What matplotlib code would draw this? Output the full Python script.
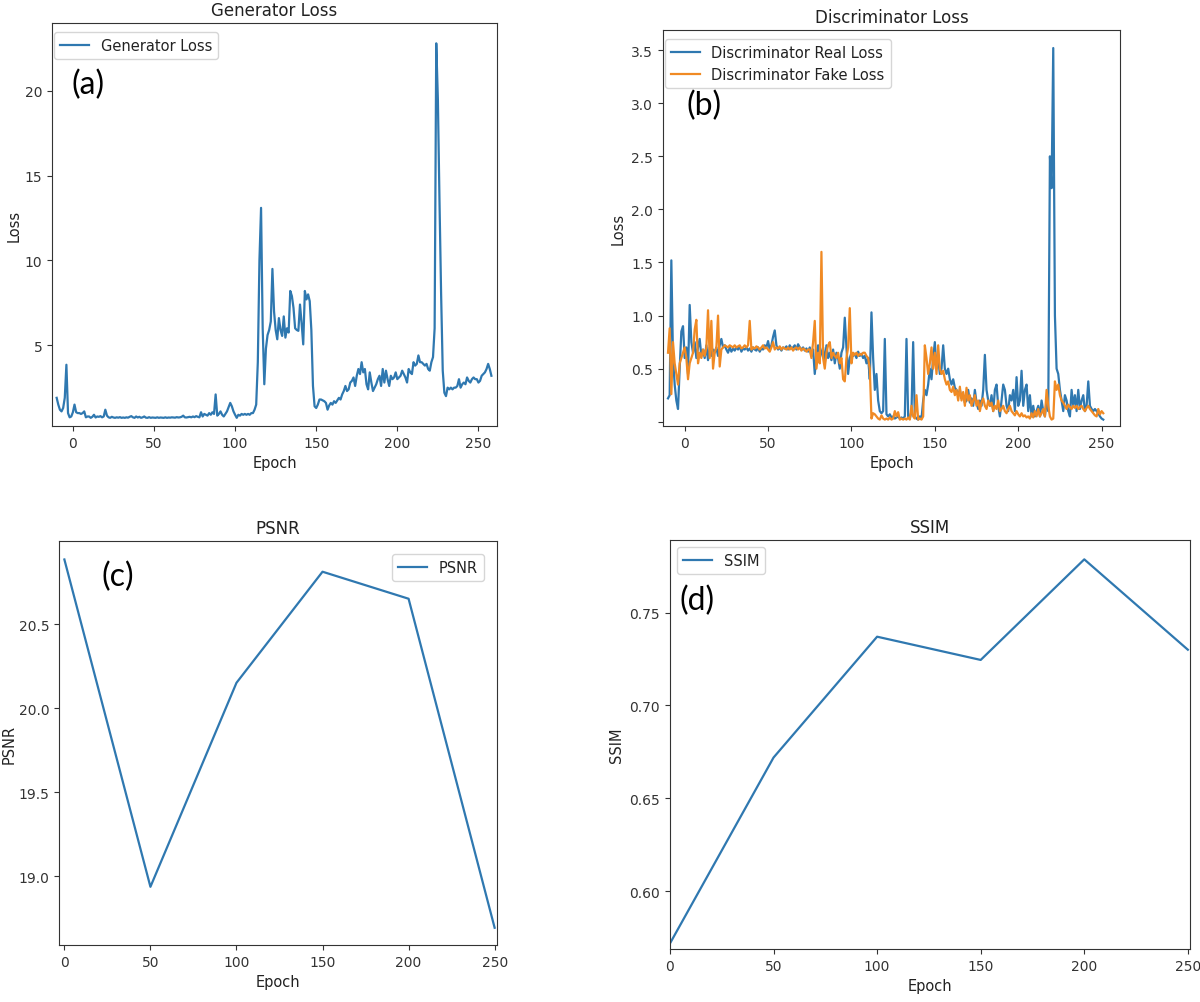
import numpy as np
import matplotlib
matplotlib.use("Agg")
import matplotlib.pyplot as plt

plt.rcParams["font.family"] = ["DejaVu Sans"]
plt.rcParams["axes.edgecolor"] = "#333333"
plt.rcParams["xtick.color"] = "#333333"
plt.rcParams["ytick.color"] = "#333333"
plt.rcParams["text.color"] = "#222222"
plt.rcParams["axes.labelcolor"] = "#222222"

# ---- data ----
gen_epochs = np.arange(-10, 259)
gen_loss = [
    1.9, 1.5, 1.2, 1.1, 1.3, 1.9, 3.85, 1.0, 0.75, 0.8,
    1.05, 1.5, 1.05, 1.0, 1.0, 0.95, 1.0, 1.1, 0.75, 0.8,
    0.8, 0.72, 0.78, 0.9, 0.74, 0.8, 0.78, 0.82, 0.75, 0.8,
    1.2, 0.85, 0.75, 0.72, 0.78, 0.74, 0.72, 0.75, 0.73, 0.76,
    0.72, 0.74, 0.72, 0.75, 0.73, 0.78, 0.82, 0.75, 0.72, 0.8,
    0.74, 0.78, 0.72, 0.75, 0.8, 0.73, 0.72, 0.76, 0.72, 0.74,
    0.73, 0.72, 0.75, 0.72, 0.74, 0.73, 0.72, 0.75, 0.72, 0.74,
    0.73, 0.75, 0.74, 0.73, 0.76, 0.74, 0.75, 0.78, 0.85, 0.75,
    0.74, 0.76, 0.78, 0.75, 0.8, 0.76, 0.82, 0.78, 0.75, 1.05,
    0.8, 0.95, 0.9, 0.85, 1.0, 0.9, 1.05, 0.95, 2.1, 0.85,
    0.95, 1.1, 0.9, 0.8, 0.95, 1.1, 1.35, 1.6, 1.4, 1.1,
    0.9, 0.72, 0.9, 0.85, 0.95, 0.9, 0.95, 0.9, 0.95, 0.9,
    1.0, 1.0, 1.2, 1.5, 4.0, 10.0, 13.1, 6.0, 2.7, 4.8,
    5.6, 5.9, 6.4, 9.5, 7.0, 5.9, 5.35, 6.6, 5.9, 5.55,
    6.7, 5.45, 6.0, 5.75, 8.2, 7.9, 7.2, 6.0, 5.9, 5.85,
    7.4, 6.3, 5.05, 8.2, 7.7, 8.0, 7.6, 5.9, 2.6, 1.4,
    1.3, 1.5, 1.8, 1.8, 1.75, 1.7, 1.6, 1.2, 1.45, 1.6,
    1.5, 1.7, 1.6, 1.75, 1.9, 1.8, 2.1, 2.3, 2.6, 2.3,
    2.4, 2.8, 2.9, 3.1, 2.6, 3.2, 3.6, 3.3, 4.0, 3.4,
    3.6, 2.7, 2.4, 3.4, 2.8, 2.3, 2.5, 2.7, 3.0, 3.2,
    2.6, 3.6, 2.8, 3.5, 3.0, 2.6, 3.2, 3.0, 3.1, 3.4,
    3.0, 3.1, 3.2, 3.5, 3.3, 3.1, 2.8, 3.6, 3.4, 3.3,
    4.0, 3.8, 3.9, 4.4, 4.0, 4.0, 3.9, 3.8, 3.9, 3.6,
    3.5, 4.0, 4.3, 6.0, 22.8, 19.5, 13.5, 8.0, 3.5, 2.2,
    2.0, 2.5, 2.4, 2.5, 2.4, 2.5, 2.5, 2.6, 3.0, 2.5,
    2.7, 2.8, 2.7, 3.1, 2.9, 2.8, 3.0, 3.1, 3.0, 3.0,
    2.8, 2.9, 3.2, 3.3, 3.4, 3.6, 3.9, 3.6, 3.2,
]

disc_epochs = np.arange(-10, 252)
disc_real = [
    0.22, 0.25, 1.52, 0.6, 0.35, 0.2, 0.12, 0.5, 0.85, 0.9,
    0.6, 0.7, 0.45, 1.1, 0.75, 0.65, 0.75, 0.6, 0.7, 0.78,
    0.62, 0.68, 0.6, 0.72, 0.58, 0.7, 0.62, 0.68, 0.65, 0.7,
    0.62, 0.72, 0.78, 0.7, 0.72, 0.68, 0.65, 0.7, 0.66, 0.69,
    0.67, 0.7, 0.68, 0.71, 0.66, 0.69, 0.68, 0.7, 0.67, 0.69,
    0.66, 0.7, 0.68, 0.67, 0.7, 0.66, 0.69, 0.68, 0.72, 0.7,
    0.76, 0.68, 0.72, 0.8, 0.86, 0.72, 0.68, 0.7, 0.67, 0.7,
    0.69, 0.71, 0.68, 0.72, 0.69, 0.7, 0.72, 0.68, 0.73, 0.7,
    0.68, 0.7, 0.67, 0.69, 0.66, 0.7, 0.62, 0.68, 0.45, 0.62,
    0.72, 0.6, 0.65, 0.7, 0.55, 0.72, 0.6, 0.65, 0.58, 0.68,
    0.55, 0.65, 0.6, 0.5, 0.65, 0.7, 0.98, 0.7, 0.45, 0.6,
    0.65, 0.62, 0.64, 0.6, 0.66, 0.62, 0.64, 0.6, 0.62, 0.55,
    0.6, 0.4, 1.03, 0.6, 0.3, 0.45, 0.2, 0.1, 0.08, 0.1,
    0.78, 0.07, 0.05, 0.07, 0.04, 0.05, 0.03, 0.04, 0.05, 0.03,
    0.04, 0.03, 0.05, 0.78, 0.05, 0.03, 0.1, 0.75, 0.05, 0.03,
    0.02, 0.05, 0.03, 0.2, 0.3, 0.25, 0.35, 0.5, 0.4, 0.6,
    0.75, 0.5, 0.6, 0.45, 0.5, 0.72, 0.5, 0.45, 0.5, 0.4,
    0.35, 0.4, 0.32, 0.3, 0.25, 0.3, 0.22, 0.25, 0.18, 0.2,
    0.3, 0.18, 0.22, 0.15, 0.3, 0.18, 0.12, 0.2, 0.15, 0.3,
    0.63, 0.3, 0.2, 0.15, 0.25, 0.1, 0.3, 0.35, 0.15, 0.05,
    0.2, 0.35, 0.3, 0.15, 0.1, 0.25, 0.2, 0.3, 0.1, 0.42,
    0.15, 0.2, 0.48, 0.15, 0.3, 0.35, 0.1, 0.25, 0.05, 0.15,
    0.05, 0.1, 0.15, 0.05, 0.2, 0.1, 0.05, 0.2, 0.1, 2.5,
    2.2, 3.52, 1.0, 0.5, 0.45, 0.3, 0.2, 0.1, 0.25, 0.2,
    0.1, 0.05, 0.3, 0.15, 0.25, 0.1, 0.3, 0.12, 0.2, 0.25,
    0.1, 0.15, 0.38, 0.15, 0.12, 0.1, 0.12, 0.1, 0.08, 0.05,
    0.03, 0.02,
]
disc_fake = [
    0.65, 0.88, 0.26, 0.75, 0.55, 0.45, 0.35, 0.55, 0.6, 0.65,
    0.7, 0.6, 0.4, 0.55, 0.6, 0.65, 0.87, 0.96, 0.55, 0.65,
    0.6, 0.68, 0.62, 0.7, 1.05, 0.6, 0.95, 0.5, 0.65, 0.7,
    1.0, 0.52, 0.68, 0.7, 0.72, 0.71, 0.7, 0.72, 0.71, 0.7,
    0.72, 0.7, 0.71, 0.72, 0.69, 0.7, 0.72, 0.7, 0.72, 0.95,
    0.68, 0.7, 0.69, 0.71, 0.7, 0.68, 0.7, 0.72, 0.69, 0.7,
    0.68, 0.66, 0.7, 0.75, 0.68, 0.7, 0.69, 0.71, 0.68, 0.7,
    0.69, 0.68, 0.7, 0.68, 0.7, 0.67, 0.69, 0.7, 0.68, 0.7,
    0.67, 0.69, 0.68, 0.66, 0.68, 0.68, 0.6, 0.75, 0.95, 0.5,
    0.65, 0.55, 1.6, 0.6, 0.5, 0.65, 0.72, 0.75, 0.6, 0.65,
    0.62, 0.6, 0.65, 0.55, 0.6, 0.4, 0.38, 0.6, 0.7, 1.07,
    0.55, 0.65, 0.63, 0.65, 0.62, 0.64, 0.63, 0.65, 0.65, 0.62,
    0.6, 0.5, 0.03, 0.08, 0.07, 0.05, 0.03, 0.02, 0.06, 0.03,
    0.02, 0.03, 0.02, 0.04, 0.02, 0.03, 0.1, 0.05, 0.09, 0.02,
    0.03, 0.02, 0.03, 0.02, 0.04, 0.02, 0.15, 0.05, 0.03, 0.25,
    0.02, 0.03, 0.02, 0.05, 0.72, 0.6, 0.45, 0.55, 0.7, 0.5,
    0.65, 0.45, 0.72, 0.5, 0.45, 0.48, 0.4, 0.35, 0.38, 0.3,
    0.28, 0.33, 0.25, 0.3, 0.2, 0.33, 0.2, 0.28, 0.15, 0.32,
    0.2, 0.25, 0.15, 0.2, 0.25, 0.15, 0.2, 0.1, 0.18, 0.22,
    0.15, 0.12, 0.2, 0.15, 0.18, 0.1, 0.15, 0.12, 0.2, 0.1,
    0.12, 0.15, 0.1, 0.08, 0.12, 0.15, 0.1, 0.08, 0.06, 0.1,
    0.07, 0.05, 0.08, 0.05, 0.06, 0.04, 0.05, 0.03, 0.08, 0.04,
    0.1, 0.05, 0.12, 0.05, 0.08, 0.12, 0.05, 0.3, 0.15, 0.05,
    0.02, 0.03, 0.38, 0.3, 0.35, 0.25, 0.2, 0.18, 0.15, 0.12,
    0.16, 0.14, 0.12, 0.15, 0.13, 0.15, 0.12, 0.14, 0.15, 0.12,
    0.1, 0.13, 0.15, 0.12, 0.1, 0.08, 0.06, 0.05, 0.12, 0.07,
    0.1, 0.08,
]

eval_epochs = [0, 50, 100, 150, 200, 250]
psnr = [20.887, 18.936, 20.152, 20.814, 20.653, 18.692]
ssim = [0.572, 0.672, 0.737, 0.7245, 0.7786, 0.730]

blue = "#2f78b0"
orange = "#f08a24"
TICK = 10
LAB = 10.5
TITLE = 12
LEG = 10.5
PANEL = 23
panel_font = ["Lato", "DejaVu Sans"]
xt = [0, 50, 100, 150, 200, 250]

fig = plt.figure(figsize=(12, 10.03), dpi=100)

# (a) generator loss
ax = fig.add_axes([0.0433, 0.5743, 0.3708, 0.4018])
ax.plot(gen_epochs, gen_loss, color=blue, lw=1.6, label="Generator Loss")
ax.set_xlim(-12.9, 261.4)
ax.set_ylim(0.24, 24.0)
ax.set_xticks(xt)
ax.set_yticks([5, 10, 15, 20])
ax.set_title("Generator Loss", fontsize=TITLE)
ax.set_xlabel("Epoch", fontsize=LAB)
ax.set_ylabel("Loss", fontsize=LAB, labelpad=2)
ax.tick_params(labelsize=TICK)
ax.legend(loc="upper left", bbox_to_anchor=(-0.012, 0.995), fontsize=LEG)
fig.text(88 / 1200, 1 - 85 / 1003, "(a)", fontsize=PANEL, family=panel_font,
         ha="center", va="center", color="black")

# (b) discriminator loss
ax = fig.add_axes([0.5525, 0.5743, 0.3808, 0.3948])
ax.plot(disc_epochs, disc_real, color=blue, lw=1.6, label="Discriminator Real Loss")
ax.plot(disc_epochs, disc_fake, color=orange, lw=1.6, label="Discriminator Fake Loss")
ax.set_xlim(-13, 261)
ax.set_ylim(-0.04, 3.69)
ax.set_xticks(xt)
ax.set_yticks([0.0, 0.5, 1.0, 1.5, 2.0, 2.5, 3.0, 3.5])
ax.set_yticklabels(["", "0.5", "1.0", "1.5", "2.0", "2.5", "3.0", "3.5"])
ax.set_title("Discriminator Loss", fontsize=TITLE)
ax.set_xlabel("Epoch", fontsize=LAB)
ax.set_ylabel("Loss", fontsize=LAB)
ax.tick_params(labelsize=TICK)
ax.legend(loc="upper left", bbox_to_anchor=(-0.012, 0.995), fontsize=LEG)
fig.text(704 / 1200, 1 - 106 / 1003, "(b)", fontsize=PANEL, family=panel_font,
         ha="center", va="center", color="black")

# (c) PSNR
ax = fig.add_axes([0.0492, 0.0568, 0.365, 0.4028])
ax.plot(eval_epochs, psnr, color=blue, lw=1.6, label="PSNR")
ax.set_xlim(-3.1, 251.4)
ax.set_ylim(18.589, 20.997)
ax.set_xticks(xt)
ax.set_yticks([19.0, 19.5, 20.0, 20.5])
ax.set_title("PSNR", fontsize=TITLE)
ax.set_xlabel("Epoch", fontsize=LAB)
ax.set_ylabel("PSNR", fontsize=LAB, labelpad=1)
ax.tick_params(labelsize=TICK)
ax.legend(loc="upper right", borderaxespad=0.9, fontsize=LEG)
fig.text(118 / 1200, 1 - 577 / 1003, "(c)", fontsize=PANEL, family=panel_font,
         ha="center", va="center", color="black")

# (d) SSIM
ax = fig.add_axes([0.5583, 0.0528, 0.4333, 0.4078])
ax.plot(eval_epochs, ssim, color=blue, lw=1.6, label="SSIM")
ax.set_xlim(0, 251)
ax.set_ylim(0.569, 0.789)
ax.set_xticks(xt)
ax.set_yticks([0.60, 0.65, 0.70, 0.75])
ax.set_title("SSIM", fontsize=TITLE)
ax.set_xlabel("Epoch", fontsize=LAB)
ax.set_ylabel("SSIM", fontsize=LAB)
ax.tick_params(labelsize=TICK)
ax.legend(loc="upper left", fontsize=LEG)
fig.text(697 / 1200, 1 - 601 / 1003, "(d)", fontsize=PANEL, family=panel_font,
         ha="center", va="center", color="black")

fig.savefig("out.png", dpi=100)
